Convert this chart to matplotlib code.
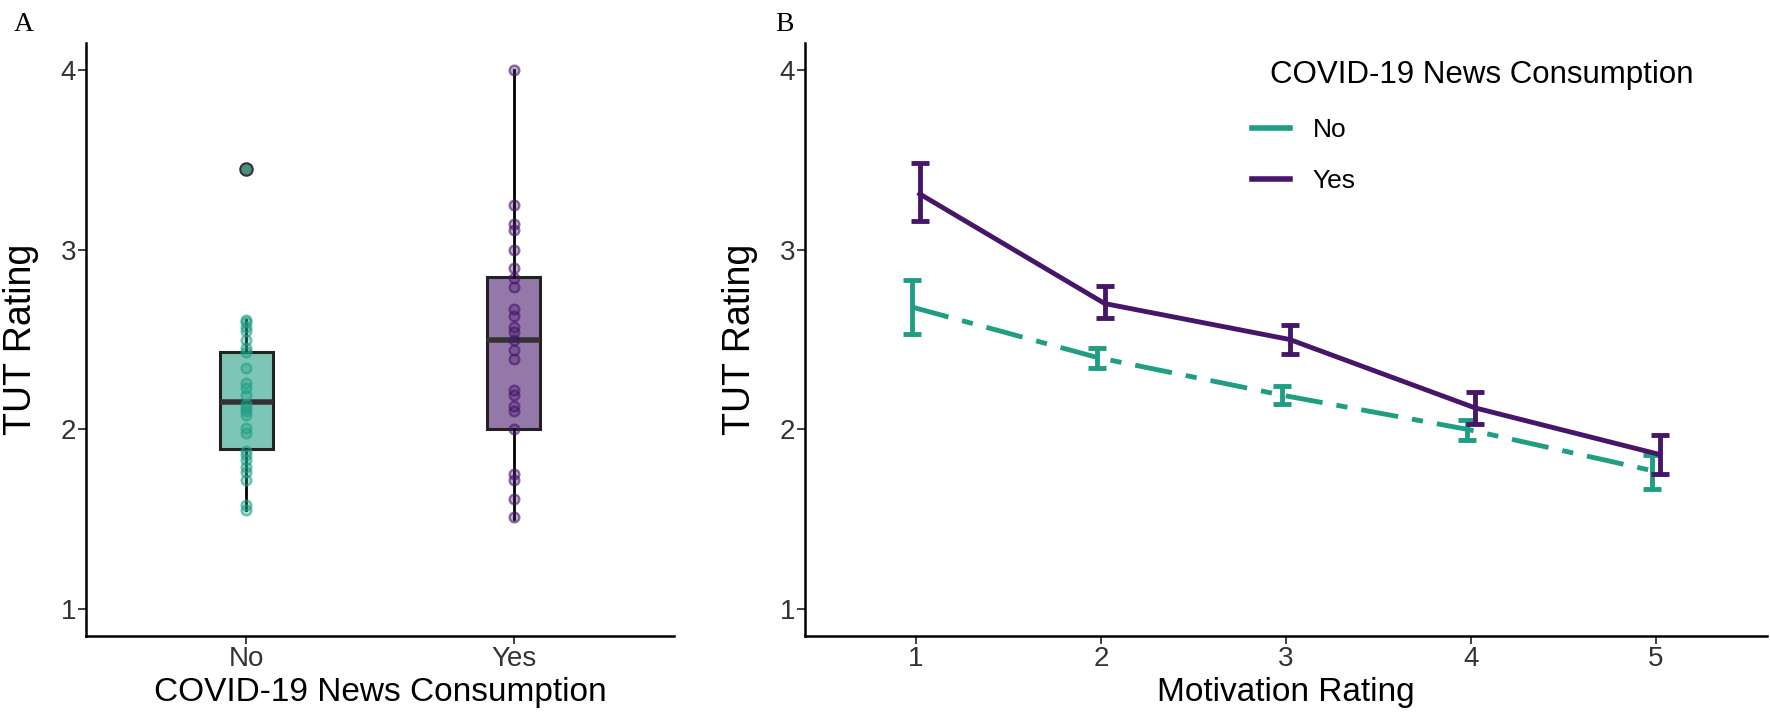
import matplotlib
matplotlib.use('Agg')
import matplotlib.pyplot as plt
from matplotlib.lines import Line2D

plt.rcParams['font.family'] = ['Liberation Sans', 'DejaVu Sans']

# Colours
teal = '#1f9e84'
purple = '#47166b'

# Panel A data: TUT rating per participant
groups = ['No', 'Yes']
tut_no = [2.61, 2.60, 2.57, 2.55, 2.50, 2.45, 2.43, 2.34, 2.26, 2.23, 2.19, 2.14,
          2.12, 2.10, 2.08, 2.01, 1.98, 1.88, 1.86, 1.83, 1.79, 1.76, 1.72, 1.58, 1.55]
tut_yes = [4.00, 3.25, 3.14, 3.11, 3.00, 2.90, 2.84, 2.79, 2.67, 2.63, 2.57, 2.54,
           2.50, 2.44, 2.39, 2.22, 2.19, 2.13, 2.10, 2.00, 1.75, 1.72, 1.61, 1.51]
outliers_no = [3.45]

# box summary: q1, median, q3, whisker low, whisker high
box_q1 = [1.89, 2.00]
box_med = [2.15, 2.50]
box_q3 = [2.43, 2.85]
box_lo = [1.55, 1.50]
box_hi = [2.61, 4.00]

# Panel B data: mean TUT by motivation rating
motivation = [1, 2, 3, 4, 5]
mean_no = [2.68, 2.40, 2.19, 2.00, 1.77]
lo_no = [2.53, 2.34, 2.14, 1.94, 1.67]
hi_no = [2.83, 2.45, 2.24, 2.05, 1.86]
mean_yes = [3.31, 2.70, 2.50, 2.12, 1.86]
lo_yes = [3.16, 2.62, 2.42, 2.03, 1.75]
hi_yes = [3.48, 2.80, 2.58, 2.21, 1.97]

W, H = 1770, 726
fig = plt.figure(figsize=(W / 100, H / 100), dpi=100)

ax_bot, ax_top = 636, 43
ax_h = ax_bot - ax_top
a_left, a_right = 86, 674
b_left, b_right = 805, 1767
axA = fig.add_axes([a_left / W, 1 - ax_bot / H, (a_right - a_left) / W, ax_h / H])
axB = fig.add_axes([b_left / W, 1 - ax_bot / H, (b_right - b_left) / W, ax_h / H])

# ---- Panel A ----
stats = []
for i in range(2):
    stats.append({'q1': box_q1[i], 'med': box_med[i], 'q3': box_q3[i],
                  'whislo': box_lo[i], 'whishi': box_hi[i], 'fliers': []})
bp = axA.bxp(stats, positions=[1, 2], widths=0.2, patch_artist=True,
             showcaps=False, showfliers=False,
             boxprops=dict(edgecolor='#222222', linewidth=2.2),
             medianprops=dict(color='#333333', linewidth=4),
             whiskerprops=dict(color='black', linewidth=2))
for patch, c in zip(bp['boxes'], [teal, purple]):
    patch.set_facecolor(matplotlib.colors.to_rgba(c, 0.58))
    patch.set_zorder(2)

for x, vals, c in [(1, tut_no, teal), (2, tut_yes, purple)]:
    axA.scatter([x] * len(vals), vals, s=50,
                facecolor=matplotlib.colors.to_rgba(c, 0.35),
                edgecolor=matplotlib.colors.to_rgba(c, 0.6), linewidth=1.6, zorder=4)
axA.scatter([1] * len(outliers_no), outliers_no, s=80, facecolor='#4f8c80',
            edgecolor='#333333', linewidth=1.5, zorder=5)

axA.set_xlim(0.4, 2.6)
axA.set_xticks([1, 2])
axA.set_xticklabels(groups)
axA.set_xlabel('COVID-19 News Consumption', fontsize=24)
axA.set_ylabel('TUT Rating', fontsize=27)

# ---- Panel B ----
dodge = 0.02
x_no = [m - dodge for m in motivation]
x_yes = [m + dodge for m in motivation]
err_no = [[m - l for m, l in zip(mean_no, lo_no)], [h - m for m, h in zip(mean_no, hi_no)]]
err_yes = [[m - l for m, l in zip(mean_yes, lo_yes)], [h - m for m, h in zip(mean_yes, hi_yes)]]

axB.plot(x_no, mean_no, color=teal, lw=3.5, linestyle=(0, (7.7, 2.9, 2.3, 2.9)), zorder=3)
axB.errorbar(x_no, mean_no, yerr=err_no, fmt='none', ecolor=teal, elinewidth=3.5,
             capsize=6.5, capthick=3.5, zorder=3)
axB.plot(x_yes, mean_yes, color=purple, lw=3.5, zorder=4)
axB.errorbar(x_yes, mean_yes, yerr=err_yes, fmt='none', ecolor=purple, elinewidth=3.5,
             capsize=6.5, capthick=3.5, zorder=4)

axB.set_xlim(0.4, 5.6)
axB.set_xticks(motivation)
axB.set_xlabel('Motivation Rating', fontsize=24)
axB.set_ylabel('TUT Rating', fontsize=27)

# legend: entries via matplotlib, title placed as its own text
handles = [Line2D([0], [0], color=teal, lw=4), Line2D([0], [0], color=purple, lw=4)]
leg = axB.legend(handles, groups, frameon=False, borderpad=0, borderaxespad=0,
                 loc='upper left',
                 bbox_to_anchor=((1252 - b_left) / (b_right - b_left), (ax_bot - 118) / ax_h),
                 fontsize=19, handlelength=1.44, labelspacing=1.02, handletextpad=0.87)
fig.text(1270 / W, 1 - 75 / H, 'COVID-19 News Consumption', fontsize=22.5, va='center')

for ax in (axA, axB):
    ax.set_ylim(0.85, 4.15)
    ax.set_yticks([1, 2, 3, 4])
    for s in ('top', 'right'):
        ax.spines[s].set_visible(False)
    for s in ('left', 'bottom'):
        ax.spines[s].set_linewidth(1.8)
    ax.tick_params(labelsize=20, length=6, width=1.3, color='#333333',
                   labelcolor='#333333', pad=1)
    ax.xaxis.label.set_va('center')
    ax.yaxis.label.set_va('center')
    ax.xaxis.set_label_coords(0.5, -(693 - ax_bot) / ax_h)

axA.yaxis.set_label_coords((21 - a_left) / (a_right - a_left), 0.5)
axB.yaxis.set_label_coords((740 - b_left) / (b_right - b_left), 0.5)

fig.text(14 / W, 1 - 12 / H, 'A', fontsize=20, family='Liberation Serif', va='top')
fig.text(775 / W, 1 - 12 / H, 'B', fontsize=20, family='Liberation Serif', va='top')

fig.savefig('out.png', dpi=100)
